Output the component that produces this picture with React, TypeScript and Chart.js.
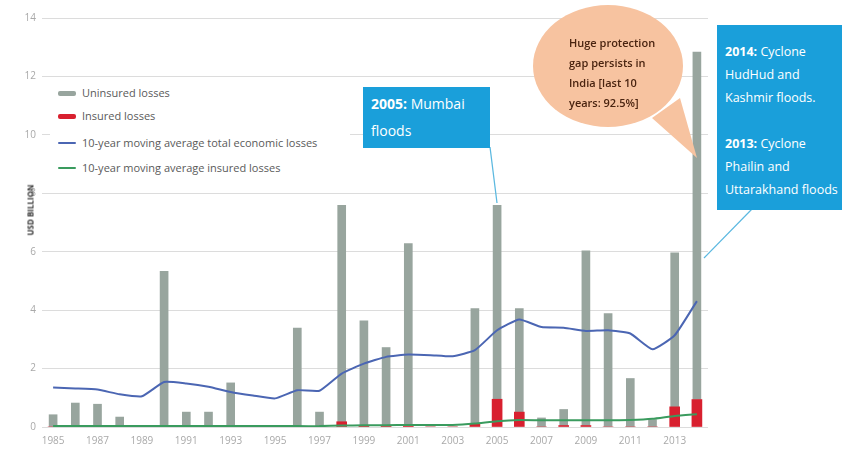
import React, { useEffect, useRef } from "react";
import { Chart, registerables } from "chart.js";

Chart.register(...registerables);

const years: string[] = [
  "1985", "1986", "1987", "1988", "1989", "1990", "1991", "1992", "1993", "1994",
  "1995", "1996", "1997", "1998", "1999", "2000", "2001", "2002", "2003", "2004",
  "2005", "2006", "2007", "2008", "2009", "2010", "2011", "2012", "2013", "2014",
];

const insuredLosses: number[] = [
  0, 0, 0, 0, 0, 0, 0, 0, 0, 0,
  0, 0, 0, 0.18, 0.05, 0.05, 0.05, 0, 0, 0.1,
  0.95, 0.51, 0, 0.05, 0.05, 0, 0, 0, 0.69, 0.94,
];

const uninsuredLosses: number[] = [
  0.42, 0.82, 0.78, 0.34, 0, 5.33, 0.51, 0.51, 1.51, 0,
  0, 3.39, 0.51, 7.41, 3.58, 2.67, 6.23, 0, 0, 3.95,
  6.64, 3.54, 0.31, 0.55, 5.98, 3.88, 1.66, 0.25, 5.27, 11.89,
];

const avgTotalLosses: number[] = [
  1.35, 1.32, 1.28, 1.12, 1.05, 1.54, 1.49, 1.38, 1.2, 1.08,
  0.98, 1.26, 1.24, 1.83, 2.17, 2.4, 2.48, 2.46, 2.42, 2.63,
  3.31, 3.68, 3.42, 3.4, 3.29, 3.31, 3.2, 2.66, 3.14, 4.31,
];

const avgInsuredLosses: number[] = [
  0.03, 0.03, 0.03, 0.03, 0.03, 0.03, 0.03, 0.03, 0.03, 0.03,
  0.03, 0.03, 0.03, 0.05, 0.06, 0.06, 0.07, 0.07, 0.07, 0.12,
  0.2, 0.24, 0.23, 0.23, 0.23, 0.23, 0.24, 0.28, 0.38, 0.44,
];

const yTicks: number[] = [0, 2, 4, 6, 8, 10, 12, 14];

const GRAY = "#98a59e";
const RED = "#d8202f";
const BLUE = "#4b66b3";
const GREEN = "#3a9b5e";
const CYAN = "#1a9fda";
const FONT = "'Open Sans', 'Noto Sans', sans-serif";

export default function App() {
  const canvasRef = useRef<HTMLCanvasElement | null>(null);

  useEffect(() => {
    const canvas = canvasRef.current;
    if (!canvas) return;
    const chart = new Chart(canvas, {
      type: "bar",
      data: {
        labels: years,
        datasets: [
          {
            type: "line",
            label: "10-year moving average total economic losses",
            data: avgTotalLosses,
            borderColor: BLUE,
            borderWidth: 2,
            pointRadius: 0,
            tension: 0.15,
            stack: "l1",
            order: 0,
          } as any,
          {
            type: "line",
            label: "10-year moving average insured losses",
            data: avgInsuredLosses,
            borderColor: GREEN,
            borderWidth: 2,
            pointRadius: 0,
            tension: 0.15,
            stack: "l2",
            order: 0,
          } as any,
          {
            type: "bar",
            label: "Insured losses",
            data: insuredLosses,
            backgroundColor: RED,
            barThickness: 10,
            stack: "bars",
            order: 1,
          },
          {
            type: "bar",
            label: "Uninsured losses",
            data: uninsuredLosses,
            backgroundColor: GRAY,
            barThickness: 8,
            stack: "bars",
            order: 1,
          },
        ],
      },
      options: {
        responsive: false,
        animation: false,
        devicePixelRatio: 1,
        layout: { padding: { left: 0, right: 134, top: 18, bottom: 0 } },
        plugins: {
          legend: { display: false },
          tooltip: { enabled: false },
        },
        scales: {
          x: {
            stacked: true,
            grid: { display: false, drawTicks: false },
            border: { display: false },
            ticks: {
              autoSkip: false,
              maxRotation: 0,
              padding: 8,
              color: "#a9a9a9",
              font: { family: FONT, size: 10 },
              callback: (_v: any, i: number) => (i % 2 === 0 ? years[i] : ""),
            },
            afterFit: (scale: any) => {
              scale.height = 25;
            },
          },
          y: {
            stacked: true,
            min: 0,
            max: 14,
            afterBuildTicks: (scale: any) => {
              scale.ticks = yTicks.map((v) => ({ value: v }));
            },
            grid: { color: "#dcdcdc", lineWidth: 1, drawTicks: false },
            border: { display: false },
            ticks: {
              padding: 6,
              color: "#a9a9a9",
              font: { family: FONT, size: 10 },
            },
            afterFit: (scale: any) => {
              scale.width = 42;
            },
          },
        },
      },
    });
    return () => chart.destroy();
  }, []);

  const legendItems = [
    { label: "Uninsured losses", color: GRAY, h: 5, y: 93 },
    { label: "Insured losses", color: RED, h: 5, y: 116 },
    { label: "10-year moving average total economic losses", color: BLUE, h: 2, y: 143 },
    { label: "10-year moving average insured losses", color: GREEN, h: 2, y: 168 },
  ];

  return (
    <div
      style={{
        position: "absolute",
        left: 0,
        top: 0,
        width: 842,
        height: 452,
        overflow: "hidden",
        background: "#fff",
        fontFamily: FONT,
      }}
    >
      <canvas ref={canvasRef} width={842} height={452} style={{ position: "absolute", left: 0, top: 0 }} />

      {/* y-axis title */}
      <div
        style={{
          position: "absolute",
          left: 30,
          top: 210,
          transform: "translate(-50%, -50%) rotate(-90deg)",
          fontSize: 8,
          fontWeight: 700,
          color: "#333",
          whiteSpace: "nowrap",
        }}
      >
        USD BILLION
      </div>

      {/* legend */}
      <div
        style={{
          position: "absolute",
          left: 50,
          top: 82,
          width: 300,
          height: 100,
          background: "#fff",
        }}
      />
      {legendItems.map((it) => (
        <div key={it.label}>
          <div
            style={{
              position: "absolute",
              left: 58,
              top: it.y - it.h / 2,
              width: 18,
              height: it.h,
              borderRadius: 2,
              background: it.color,
            }}
          />
          <div
            style={{
              position: "absolute",
              left: 82,
              top: it.y - 8,
              height: 16,
              lineHeight: "16px",
              fontSize: 11,
              color: "#5a5a5a",
              whiteSpace: "nowrap",
            }}
          >
            {it.label}
          </div>
        </div>
      ))}

      {/* shapes: bubble and connectors */}
      <svg
        width={842}
        height={452}
        style={{ position: "absolute", left: 0, top: 0, pointerEvents: "none" }}
      >
        <polygon points="652,118 680,98 697,158" fill="#f7c3a0" />
        <ellipse cx={608} cy={66} rx={75} ry={61} fill="#f7c3a0" />
        <line x1={490} y1={147} x2={497} y2={203} stroke="#5bb8e0" strokeWidth={1.2} />
        <line x1={752} y1={209} x2={704} y2={258} stroke="#5bb8e0" strokeWidth={1.2} />
      </svg>

      {/* bubble text */}
      <div
        style={{
          position: "absolute",
          left: 569,
          top: 33,
          fontSize: 11,
          fontWeight: 600,
          lineHeight: "20px",
          color: "#4a2410",
          whiteSpace: "nowrap",
        }}
      >
        Huge protection
        <br />
        gap persists in
        <br />
        India [last 10
        <br />
        years: 92.5%]
      </div>

      {/* 2005 box */}
      <div
        style={{
          position: "absolute",
          left: 363,
          top: 87,
          width: 127,
          height: 61,
          background: CYAN,
          color: "#fff",
          fontSize: 14,
          lineHeight: "27px",
          padding: "3px 0 0 8px",
          boxSizing: "border-box",
          whiteSpace: "nowrap",
        }}
      >
        <b>2005:</b> Mumbai
        <br />
        floods
      </div>

      {/* 2013/2014 box */}
      <div
        style={{
          position: "absolute",
          left: 717,
          top: 25,
          width: 140,
          height: 185,
          background: CYAN,
          color: "#fff",
          fontSize: 12.5,
          lineHeight: "23px",
          padding: "15px 0 0 8px",
          boxSizing: "border-box",
          whiteSpace: "nowrap",
        }}
      >
        <b>2014:</b> Cyclone
        <br />
        HudHud and
        <br />
        Kashmir floods.
        <br />
        <br />
        <b>2013:</b> Cyclone
        <br />
        Phailin and
        <br />
        Uttarakhand floods
      </div>
    </div>
  );
}
